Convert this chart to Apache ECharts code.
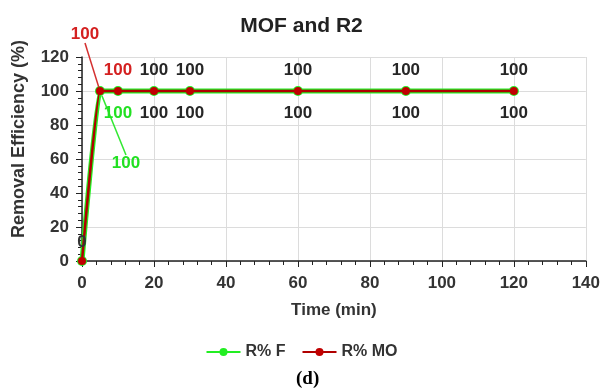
<!DOCTYPE html>
<html>
<head>
<meta charset="utf-8">
<script src="https://cdn.jsdelivr.net/npm/echarts@6/dist/echarts.min.js"></script>
<style>
    html, body { margin: 0; padding: 0; background: #fff; }
    #chart { width: 603px; height: 388px; }
</style>
</head>
<body>
<div id="chart"></div>
<script>
// data
var timeMin = [0, 5, 10, 20, 30, 60, 90, 120];
var removalF = [0, 100, 100, 100, 100, 100, 100, 100];
var removalMO = [0, 100, 100, 100, 100, 100, 100, 100];
var xTicks = [0, 20, 40, 60, 80, 100, 120, 140];
var yTicks = [0, 20, 40, 60, 80, 100, 120];

var font = "Liberation Sans";

function pairs(xs, ys) {
    var out = [];
    for (var i = 0; i < xs.length; i++) {
        out.push([xs[i], ys[i]]);
    }
    return out;
}

// first points get coloured labels, the rest black
function labelColor(i, c) {
    if (i === 0) return "#333";
    if (i <= 2) return c;
    return "#262626";
}

var dataF = pairs(timeMin, removalF).map(function (p, i) {
    var item = {value: p, label: {color: labelColor(i, "#22e022")}};
    if (i === 0) item.label.show = false;   // hidden under the tick label
    if (i === 1) item.labelLine = {show: true};
    return item;
});
var dataMO = pairs(timeMin, removalMO).map(function (p, i) {
    var item = {value: p, label: {color: labelColor(i, "#d42020")}};
    if (i === 1) item.labelLine = {show: true};
    return item;
});

var myChart = echarts.init(document.getElementById("chart"));
var option = {
    animation: false,
    title: [
        {
            text: "MOF and R2", left: "center", top: 11,
            textStyle: {fontFamily: font, fontSize: 21, fontWeight: "bold", color: "#222"}
        },
        {
            text: "(d)", left: 291, top: 365,
            textStyle: {fontFamily: "Liberation Serif", fontSize: 19, fontWeight: "bold", color: "#000"}
        }
    ],
    legend: {
        bottom: 23,
        left: "center",
        itemWidth: 34,
        itemHeight: 10,
        itemGap: 16,
        textStyle: {fontFamily: font, fontSize: 16, fontWeight: "bold", color: "#333"},
        data: ["R% F", "R% MO"]
    },
    grid: {left: 82, right: 14, top: 57, bottom: 127},
    xAxis: {
        type: "value",
        min: 0, max: 140, interval: 20,
        name: "Time (min)",
        nameLocation: "middle",
        nameGap: 41,
        nameTextStyle: {fontFamily: font, fontSize: 17, fontWeight: "bold", color: "#333"},
        axisLine: {lineStyle: {color: "#222", width: 1.5}},
        axisTick: {length: 6, lineStyle: {color: "#222"}},
        minorTick: {show: true, splitNumber: 5, length: 4, lineStyle: {color: "#222"}},
        splitLine: {show: true, lineStyle: {color: "#dcdcdc"}},
        axisLabel: {
            fontFamily: font, fontSize: 17, fontWeight: "bold", color: "#333", margin: 14,
            formatter: function (v) { return xTicks.indexOf(v) >= 0 ? v : ""; }
        }
    },
    yAxis: {
        type: "value",
        min: 0, max: 120, interval: 20,
        name: "Removal Efficiency (%)",
        nameLocation: "middle",
        nameGap: 54,
        nameTextStyle: {
            fontFamily: font, fontSize: 18, fontWeight: "bold", color: "#333",
            padding: [0, 0, 0, 40]
        },
        axisLine: {show: true, lineStyle: {color: "#222", width: 1.5}},
        axisTick: {show: true, length: 6, lineStyle: {color: "#222"}},
        minorTick: {show: true, splitNumber: 5, length: 4, lineStyle: {color: "#222"}},
        splitLine: {show: true, lineStyle: {color: "#dcdcdc"}},
        axisLabel: {
            fontFamily: font, fontSize: 17, fontWeight: "bold", color: "#333", margin: 13,
            formatter: function (v) { return yTicks.indexOf(v) >= 0 ? v : ""; }
        }
    },
    series: [
        {
            name: "R% F",
            type: "line",
            data: dataF,
            smooth: 0.1,
            symbol: "circle",
            symbolSize: 10,
            z: 2,
            itemStyle: {color: "#22ee22"},
            lineStyle: {color: "#22ee22", width: 5},
            label: {
                show: true, position: "bottom", distance: 9,
                fontFamily: font, fontSize: 17, fontWeight: "bold",
                formatter: function (p) { return p.value[1]; }
            },
            labelLine: {show: false, lineStyle: {color: "#33e833", width: 1.5}},
            labelLayout: function (p) {
                if (p.dataIndex === 1) return {dx: 26, dy: 50};
                return {};
            }
        },
        {
            name: "R% MO",
            type: "line",
            data: dataMO,
            smooth: 0.1,
            symbol: "circle",
            symbolSize: 8,
            z: 3,
            itemStyle: {color: "#c00000"},
            lineStyle: {color: "#b00000", width: 2.5},
            label: {
                show: true, position: "top", distance: 8,
                fontFamily: font, fontSize: 17, fontWeight: "bold",
                formatter: function (p) { return p.value[1]; }
            },
            labelLine: {show: false, lineStyle: {color: "#d43030", width: 1.5}},
            labelLayout: function (p) {
                if (p.dataIndex === 0) return {dy: 2};
                if (p.dataIndex === 1) return {dx: -15, dy: -36};
                return {};
            }
        }
    ]
};
myChart.setOption(option);
</script>
</body>
</html>
